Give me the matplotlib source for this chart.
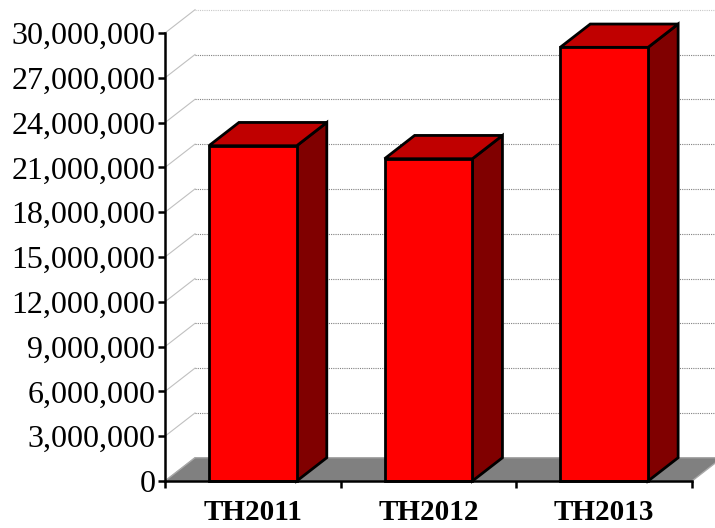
import numpy as np
import matplotlib
matplotlib.use('Agg')
import matplotlib.pyplot as plt
from matplotlib.patches import Polygon

categories = ['TH2011', 'TH2012', 'TH2013']
values = [22450000, 21580000, 29040000]
yticks = np.arange(0, 30000001, 3000000)
ytick_labels = ['{:,}'.format(v) for v in yticks]

# depth of the 3d box, in category units / value units
dx = 0.171
dy = 1560000
bar_w = 0.5

fig = plt.figure(figsize=(7.15, 5.28), dpi=100)
ax = fig.add_axes([165 / 715, 47 / 528, 527 / 715, 448 / 528])
ax.set_xlim(-0.5, 2.5)
ax.set_ylim(0, 30000000)

# side wall diagonals and back wall gridlines
for v in yticks:
    ax.plot([-0.5, -0.5 + dx], [v, v + dy], color='#c0c0c0', lw=0.8,
            clip_on=False, zorder=1)
    if v == 0:
        continue
    col = '#c8c8c8' if v == yticks[-1] else '#808080'
    ax.plot([-0.5 + dx, 2.5 + dx], [v + dy, v + dy], color=col, lw=0.8,
            ls=(0, (1, 1)), clip_on=False, zorder=1)

# floor
floor = Polygon([(-0.5, 0), (2.5, 0), (2.5 + dx, dy), (-0.5 + dx, dy)],
                closed=True, facecolor='#808080', edgecolor='#a8a8a8',
                lw=1.0, clip_on=False, zorder=2)
ax.add_patch(floor)

# 3d bars
for i, v in enumerate(values):
    x0 = i - bar_w / 2
    x1 = i + bar_w / 2
    side = Polygon([(x1, 0), (x1 + dx, dy), (x1 + dx, v + dy), (x1, v)],
                   closed=True, facecolor='#800000', edgecolor='black',
                   lw=2, joinstyle='miter', clip_on=False, zorder=3)
    top = Polygon([(x0, v), (x1, v), (x1 + dx, v + dy), (x0 + dx, v + dy)],
                  closed=True, facecolor='#c00000', edgecolor='black',
                  lw=2, joinstyle='miter', clip_on=False, zorder=3)
    front = Polygon([(x0, 0), (x1, 0), (x1, v), (x0, v)],
                    closed=True, facecolor='#ff0000', edgecolor='black',
                    lw=2, joinstyle='miter', clip_on=False, zorder=4)
    ax.add_patch(side)
    ax.add_patch(top)
    ax.add_patch(front)

for s in ['top', 'right']:
    ax.spines[s].set_visible(False)
for s in ['left', 'bottom']:
    ax.spines[s].set_linewidth(1.8)
    ax.spines[s].set_zorder(5)

ax.set_yticks(yticks)
ax.set_yticklabels(ytick_labels, fontfamily='Liberation Serif', fontsize=23)
ax.tick_params(axis='y', direction='out', length=5, width=1.8, pad=2)

ax.set_xticks([-0.5, 0.5, 1.5, 2.5])
ax.set_xticklabels([])
ax.tick_params(axis='x', which='major', direction='out', length=5, width=1.8)
ax.set_xticks(range(len(categories)), minor=True)
ax.set_xticklabels(categories, minor=True, fontfamily='Liberation Serif',
                   fontsize=21, fontweight='bold')
ax.tick_params(axis='x', which='minor', length=0, pad=13)

ax.patch.set_visible(False)
fig.savefig('out.png', dpi=100)
